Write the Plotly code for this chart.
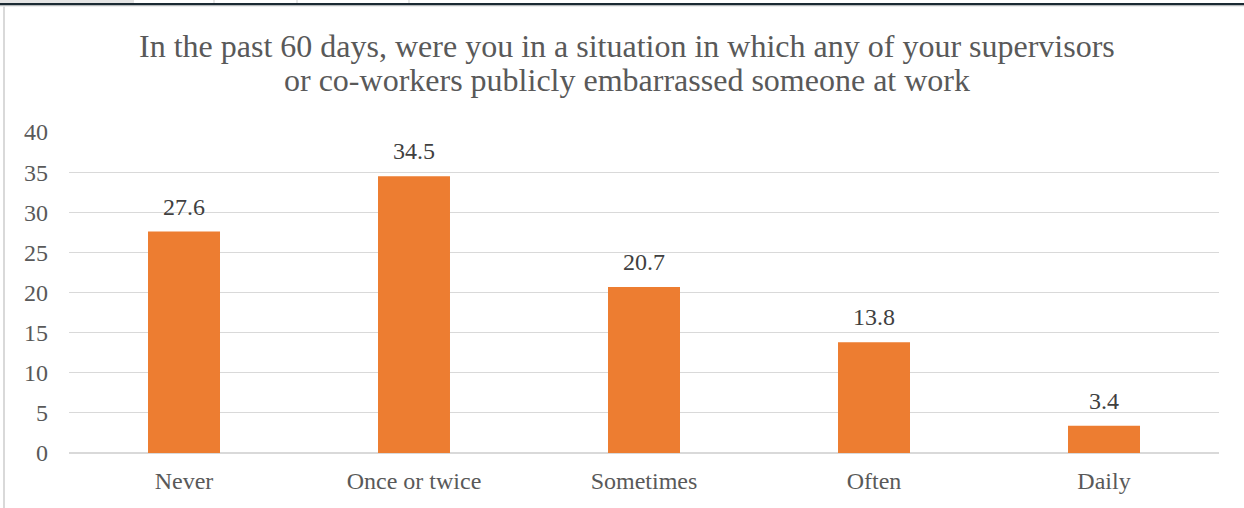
import plotly.graph_objects as go

categories = ["Never", "Once or twice", "Sometimes", "Often", "Daily"]
values = [27.6, 34.5, 20.7, 13.8, 3.4]
y_ticks = [0, 5, 10, 15, 20, 25, 30, 35, 40]
title_lines = [
    "In the past 60 days, were you in a situation in which any of your supervisors",
    "or co-workers publicly embarrassed someone at work",
]

W, H = 1244, 508
L, R, T, B = 69, 25, 132, 55
PW, PH = W - L - R, H - T - B
SERIF = "Liberation Serif"


def px_x(x):
    return (x - L) / PW


def px_y(y):
    return 1 - (y - T) / PH


fig = go.Figure(
    go.Bar(
        x=categories,
        y=values,
        marker=dict(color="#ED7D31", line=dict(width=0)),
        hoverinfo="skip",
    )
)

# value labels above each bar
for c, v in zip(categories, values):
    fig.add_annotation(
        x=c, y=v, xref="x", yref="y",
        text=f"{v:.1f}", showarrow=False,
        yanchor="bottom", yshift=10,
        font=dict(family=SERIF, size=24, color="#404040"),
    )

# two-line chart title
for line, cy in zip(title_lines, [46, 80]):
    fig.add_annotation(
        x=px_x(627), y=px_y(cy), xref="paper", yref="paper",
        text=line, showarrow=False,
        xanchor="center", yanchor="middle",
        font=dict(family=SERIF, size=32, color="#595959"),
    )

fig.update_layout(
    width=W,
    height=H,
    margin=dict(l=L, r=R, t=T, b=B),
    paper_bgcolor="white",
    plot_bgcolor="white",
    bargap=0.687,
    showlegend=False,
    font=dict(family=SERIF, color="#595959"),
    xaxis=dict(
        showgrid=False,
        showline=False,
        ticks="",
        tickfont=dict(family=SERIF, size=24, color="#595959"),
        ticklabelstandoff=11,
    ),
    yaxis=dict(
        range=[0, 40],
        tickvals=y_ticks,
        showgrid=True,
        gridcolor="#D9D9D9",
        gridwidth=1,
        zeroline=True,
        zerolinecolor="#D9D9D9",
        zerolinewidth=1.5,
        showline=False,
        ticks="",
        tickfont=dict(family=SERIF, size=24, color="#595959"),
        ticklabelstandoff=20,
    ),
    shapes=[
        # window strip along the top edge
        dict(type="rect", xref="paper", yref="paper",
             x0=px_x(0), x1=px_x(134), y0=px_y(3), y1=px_y(0),
             fillcolor="#E4E4E4", line=dict(width=0), layer="above"),
        dict(type="rect", xref="paper", yref="paper",
             x0=px_x(0), x1=px_x(W), y0=px_y(5.5), y1=px_y(3),
             fillcolor="#1B2A33", line=dict(width=0), layer="above"),
        dict(type="rect", xref="paper", yref="paper",
             x0=px_x(0), x1=px_x(W), y0=px_y(6.5), y1=px_y(5.5),
             fillcolor="#DDDDDD", line=dict(width=0), layer="above"),
        # left frame border
        dict(type="rect", xref="paper", yref="paper",
             x0=px_x(3), x1=px_x(5), y0=px_y(H), y1=px_y(6.5),
             fillcolor="#D9D9D9", line=dict(width=0), layer="above"),
    ],
)

# separators in the top strip
for sx in [214, 297, 409]:
    fig.add_shape(type="line", xref="paper", yref="paper",
                  x0=px_x(sx), x1=px_x(sx), y0=px_y(3), y1=px_y(0),
                  line=dict(color="#CFCFCF", width=1), layer="above")

fig.write_html("out.html")
